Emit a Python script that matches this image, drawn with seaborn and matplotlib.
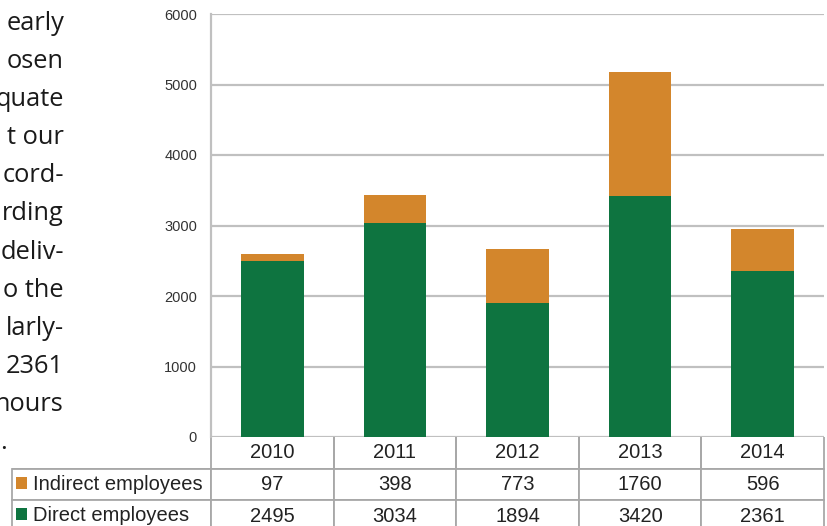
import matplotlib
matplotlib.use("Agg")
import matplotlib.pyplot as plt
import pandas as pd
import seaborn as sns

years = ["2010", "2011", "2012", "2013", "2014"]
direct = [2495, 3034, 1894, 3420, 2361]
indirect = [97, 398, 773, 1760, 596]
row_labels = ["Indirect employees", "Direct employees"]
yticks = [0, 1000, 2000, 3000, 4000, 5000, 6000]

# cropped paragraph on the left of the page
para_lines = ["early", "osen", "quate", "t our", "cord-", "rding",
              "deliv-", "o the", "larly-", "2361", "hours"]

green = "#0e7440"
orange = "#d3862c"
grid_col = "#c0c0c0"
table_col = "#a8a8a8"

df = pd.DataFrame({"year": years, "direct": direct, "indirect": indirect})
df["total"] = df["direct"] + df["indirect"]

sns.set_theme(style="white")
plt.rcParams["font.family"] = ["Liberation Sans", "DejaVu Sans"]

fig = plt.figure(figsize=(8.27, 5.26), dpi=100)
ax = fig.add_axes([211 / 827, 89 / 526, 613 / 827, 423 / 526])

sns.barplot(data=df, x="year", y="total", color=orange, width=0.51,
            saturation=1, ax=ax, label=row_labels[0], linewidth=0)
sns.barplot(data=df, x="year", y="direct", color=green, width=0.51,
            saturation=1, ax=ax, label=row_labels[1], linewidth=0)

ax.set_ylim(0, 6000)
ax.set_xlim(-0.5, 4.5)
ax.set_yticks(yticks)
ax.set_yticklabels([str(t) for t in yticks], fontsize=10.5, color="#333333")
ax.yaxis.grid(True, color=grid_col, linewidth=1.6)
ax.set_axisbelow(True)
ax.tick_params(axis="y", length=0, pad=10)
ax.tick_params(axis="x", labelbottom=False, length=0)
ax.set_xlabel("")
ax.set_ylabel("")
for s in ["top", "right", "bottom"]:
    ax.spines[s].set_visible(False)
ax.spines["left"].set_color(grid_col)
ax.spines["left"].set_linewidth(1.6)

# data table under the bars
lab_w = 199 / 613
cell_text = [[""] + [str(v) for v in indirect],
             [""] + [str(v) for v in direct]]
tbl = ax.table(cellText=cell_text, colLabels=[""] + years,
               colWidths=[lab_w] + [0.2] * 5,
               bbox=[-lab_w, -95 / 423, 1 + lab_w, 95 / 423],
               cellLoc="center")
tbl.auto_set_font_size(False)
for (r, c), cell in tbl.get_celld().items():
    cell.set_edgecolor(table_col)
    cell.set_linewidth(1.3)
    cell.get_text().set_fontsize(14.5)
    cell.get_text().set_color("#222222")
    if r == 0 and c == 0:
        cell.visible_edges = "B"
    elif r == 0:
        cell.visible_edges = "LRB"

# row labels with their colour keys, taken from the bars
handles, labels = ax.get_legend_handles_labels()
leg = ax.legend(handles, labels, loc="upper left",
                bbox_to_anchor=(-lab_w + 4 / 613, -38 / 423),
                frameon=False, fontsize=14.5, handlelength=0.55,
                handleheight=0.55, handletextpad=0.28, borderpad=0,
                borderaxespad=0, labelspacing=0.62)
for t in leg.get_texts():
    t.set_color("#222222")

# paragraph fragment at the page edge
for i, line in enumerate(para_lines):
    fig.text(64 / 827, 1 - (30 + 38.1 * i) / 526, line, ha="right",
             va="baseline", fontsize=18.3, family="Open Sans", color="#1a1a1a")
fig.text(0, 1 - (30 + 38.1 * 11) / 526, ".", ha="left", va="baseline",
         fontsize=18.3, family="Open Sans", color="#1a1a1a")

fig.savefig("out.png", dpi=100)
